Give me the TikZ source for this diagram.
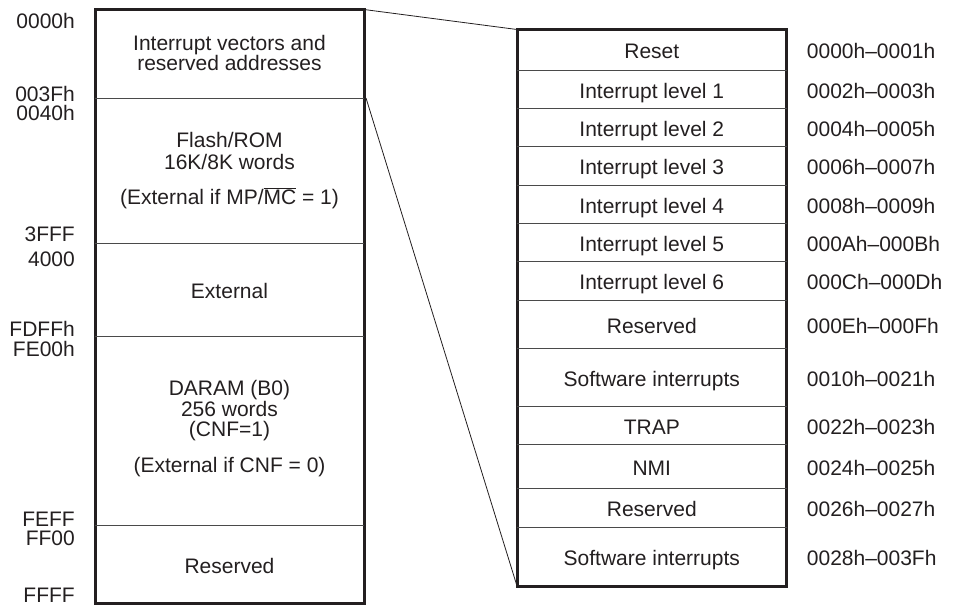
\documentclass[tikz,border=0pt]{standalone}
\usepackage{fontspec}
\setmainfont{Liberation Sans}
\definecolor{ink}{HTML}{231F20}
\definecolor{rulec}{HTML}{4A4A4A}
\begin{document}
\begin{tikzpicture}[x=1pt,y=-1pt,
  txt/.style={inner sep=0pt, font=\fontsize{21}{21}\selectfont, text=ink},
  lbl/.style={txt, anchor=base east},
  ctr/.style={txt, anchor=base},
  addr/.style={txt, anchor=base west},
  frame/.style={draw=ink, line width=3pt},
  divider/.style={draw=rulec, line width=1pt},
  link/.style={draw=ink, line width=0.8pt}]
\useasboundingbox (0,0) rectangle (953,605);

% corner coordinates
\coordinate (LTR) at (364,9.5);
\coordinate (LDiv) at (366,98);
\coordinate (RTL) at (517,29.5);
\coordinate (RBL) at (517,586);

% connectors
\draw[link] (LTR) -- (RTL);
\draw[link] (LDiv) -- (RBL);

% left memory map
\draw[frame] (95,9.5) rectangle (364,603);
\foreach \yy in {98,243,336,525} \draw[divider] (95,\yy) -- (364,\yy);

\node[ctr] (iv1) at (229.5,50) {Interrupt vectors and};
\node[ctr] (iv2) at (229.5,70.7) {reserved addresses};
\node[ctr] (fl1) at (229.5,147.7) {Flash/ROM};
\node[ctr] (fl2) at (229.5,169) {16K/8K words};
\node[ctr] (fl3) at (229.5,204) {(External if MP/$\overline{\mbox{MC}}$ = 1)};
\node[ctr] (ext) at (229.5,298) {External};
\node[ctr] (da1) at (229.5,395.7) {DARAM (B0)};
\node[ctr] (da2) at (229.5,416.7) {256 words};
\node[ctr] (da3) at (229.5,436.5) {(CNF=1)};
\node[ctr] (da4) at (229.5,472.7) {(External if CNF = 0)};
\node[ctr] (res) at (229.5,573.3) {Reserved};

% left address labels
\node[lbl] (a1) at (75,28.3) {0000h};
\node[lbl] (a2) at (75,101) {003Fh};
\node[lbl] (a3) at (75,120) {0040h};
\node[lbl] (a4) at (75,241) {3FFF};
\node[lbl] (a5) at (75,266) {4000};
\node[lbl] (a6) at (75,336) {FDFFh};
\node[lbl] (a7) at (75,356.7) {FE00h};
\node[lbl] (a8) at (75,526) {FEFF};
\node[lbl] (a9) at (75,545.7) {FF00};
\node[lbl] (a10) at (75,602) {FFFF};

% right vector table
\draw[frame] (517,29.5) rectangle (786.7,586);
\foreach \yy in {70,108.3,146.7,185,223.3,261.7,300,348.3,406,444.3,488.3,527.3}
  \draw[divider] (517,\yy) -- (786.7,\yy);

\foreach \i/\yb/\t/\a in {
  1/58.8/Reset/0000h–0001h,
  2/98.2/Interrupt level 1/0002h–0003h,
  3/136.5/Interrupt level 2/0004h–0005h,
  4/174.9/Interrupt level 3/0006h–0007h,
  5/213.2/Interrupt level 4/0008h–0009h,
  6/251.5/Interrupt level 5/000Ah–000Bh,
  7/289.9/Interrupt level 6/000Ch–000Dh,
  8/333.2/Reserved/000Eh–000Fh,
  9/386.2/Software interrupts/0010h–0021h,
  10/434.2/TRAP/0022h–0023h,
  11/475.3/NMI/0024h–0025h,
  12/516.8/Reserved/0026h–0027h,
  13/565.7/Software interrupts/0028h–003Fh}
{
  \node[ctr] (v\i) at (651.8,\yb) {\t};
  \node[addr] (w\i) at (806.7,\yb) {\a};
}
\end{tikzpicture}
\end{document}
